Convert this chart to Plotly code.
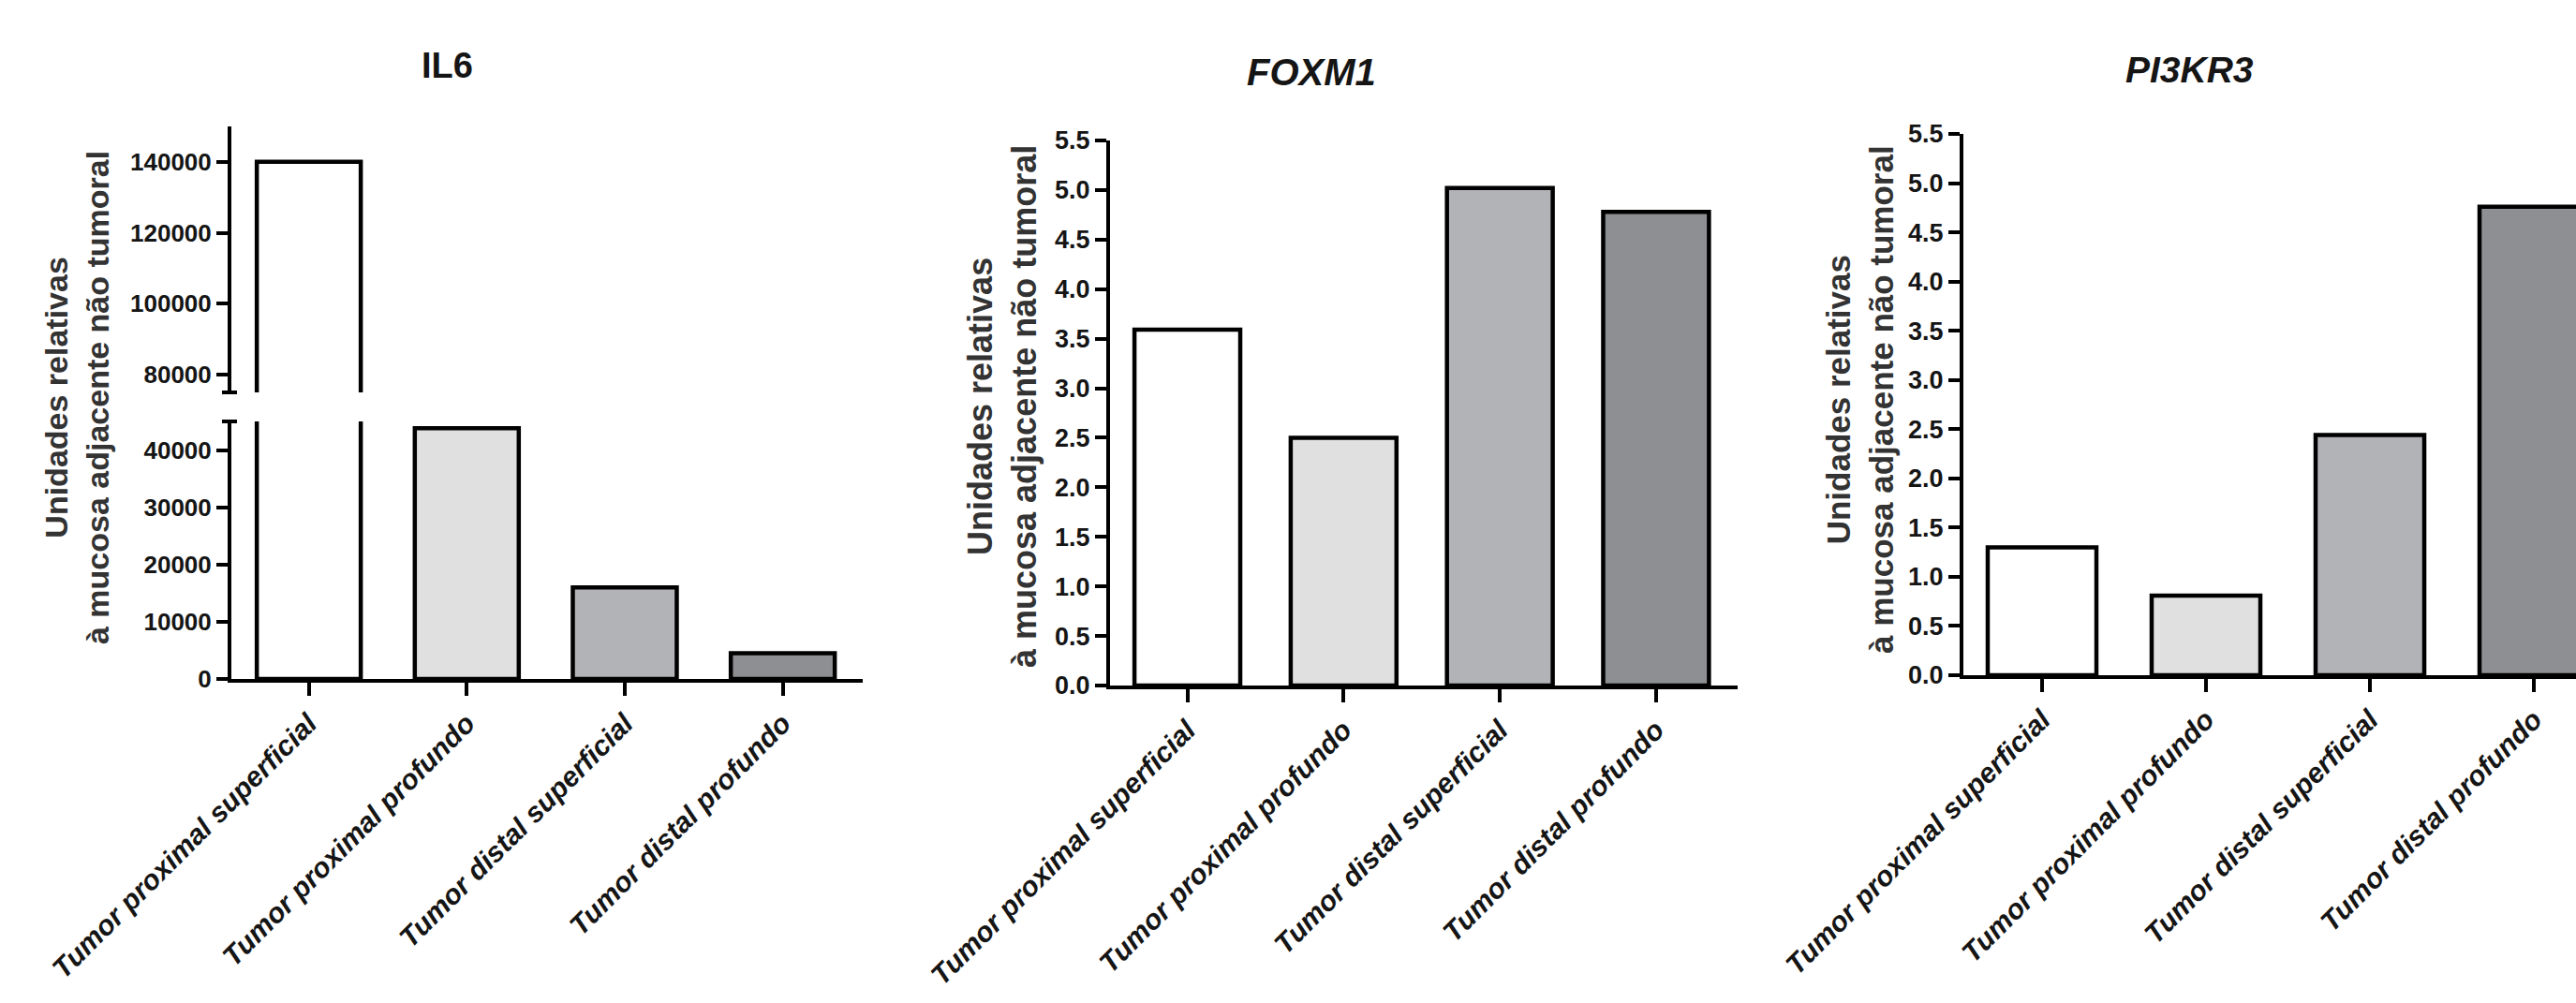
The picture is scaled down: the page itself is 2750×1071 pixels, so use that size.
import plotly.graph_objects as go

W, H = 2750, 1071

# ---- data -------------------------------------------------------------
categories = [
    "Tumor proximal superficial",
    "Tumor proximal profundo",
    "Tumor distal superficial",
    "Tumor distal profundo",
]
bar_colors = ["#ffffff", "#e0e0e0", "#b2b3b7", "#8e8f92"]

il6_values = [140000, 43800, 16000, 4500]
foxm1_values = [3.59, 2.50, 5.02, 4.78]
pi3kr3_values = [1.30, 0.81, 2.44, 4.76]

il6_lower_ticks = [0, 10000, 20000, 30000, 40000]
il6_upper_ticks = [80000, 100000, 120000, 140000]
il6_lower_range = [0, 45000]
il6_upper_range = [75000, 150000]

fold_ticks = [0.0, 0.5, 1.0, 1.5, 2.0, 2.5, 3.0, 3.5, 4.0, 4.5, 5.0, 5.5]
fold_range = [0, 5.5]

panel_titles = ["IL6", "FOXM1", "PI3KR3"]
y_title = "Unidades relativas<br>à mucosa adjacente não tumoral"

# ---- layout helpers (pixel -> paper) ----------------------------------
def fx(p):
    return p / W


def fy(p):
    return 1 - p / H


FONT = "Liberation Sans, Arial, Helvetica, sans-serif"
INK = "#151515"
LW = 4

il6_x_dom = [fx(247), fx(921)]
il6_low_dom = [fy(725), fy(450)]
il6_up_dom = [fy(419), fy(135)]
fox_x_dom = [fx(1185), fx(1855)]
fox_y_dom = [fy(732), fy(150)]
pik_x_dom = [fx(2096), 1.0]
pik_y_dom = [fy(721), fy(143)]


def xaxis_style(domain, anchor, rng):
    return dict(
        domain=domain, anchor=anchor, range=rng, type="category",
        showline=True, linecolor="black", linewidth=LW,
        ticks="outside", ticklen=14, tickwidth=LW, tickcolor="black",
        tickangle=-45, showgrid=False, zeroline=False, automargin=False,
        tickfont=dict(family=FONT, size=30, color=INK,
                      weight="bold", style="italic"),
        fixedrange=True,
    )


def yaxis_style(domain, anchor, rng, tickvals, ticktext, size):
    return dict(
        domain=domain, anchor=anchor, range=rng,
        tickvals=tickvals, ticktext=ticktext,
        showline=True, linecolor="black", linewidth=LW,
        ticks="outside", ticklen=12, tickwidth=LW, tickcolor="black",
        showgrid=False, zeroline=False, automargin=False,
        tickfont=dict(family=FONT, size=size, color=INK, weight="bold"),
        fixedrange=True,
    )


fig = go.Figure()

bar_line = dict(color="black", width=4.5)

# IL6: broken axis, the same bars drawn on the lower and upper segments
for yref in ("y", "y2"):
    fig.add_trace(go.Bar(
        x=categories, y=il6_values, xaxis="x", yaxis=yref,
        marker=dict(color=bar_colors, line=bar_line),
        width=0.658, showlegend=False,
    ))

fig.add_trace(go.Bar(
    x=categories, y=foxm1_values, xaxis="x2", yaxis="y3",
    marker=dict(color=bar_colors, line=bar_line),
    width=0.677, showlegend=False,
))

fig.add_trace(go.Bar(
    x=categories, y=pi3kr3_values, xaxis="x3", yaxis="y4",
    marker=dict(color=bar_colors, line=bar_line),
    width=0.663, showlegend=False,
))

fold_text = [f"{v:.1f}" for v in fold_ticks]

fig.update_layout(
    width=W, height=H,
    margin=dict(l=0, r=0, t=0, b=0, pad=0, autoexpand=False),
    paper_bgcolor="white", plot_bgcolor="white",
    showlegend=False,
    xaxis=xaxis_style(il6_x_dom, "y", [-0.49, 3.506]),
    yaxis=yaxis_style(il6_low_dom, "x", il6_lower_range,
                      il6_lower_ticks, [str(v) for v in il6_lower_ticks], 26),
    yaxis2=yaxis_style(il6_up_dom, "x", il6_upper_range,
                       il6_upper_ticks, [str(v) for v in il6_upper_ticks], 26),
    xaxis2=xaxis_style(fox_x_dom, "y3", [-0.495, 3.522]),
    yaxis3=yaxis_style(fox_y_dom, "x2", fold_range, fold_ticks, fold_text, 27),
    xaxis3=xaxis_style(pik_x_dom, "y4", [-0.48, 3.257]),
    yaxis4=yaxis_style(pik_y_dom, "x3", fold_range, fold_ticks, fold_text, 27),
)

# small caps closing the two segments of the broken IL6 axis
cap = 8 / W
axis_x = il6_x_dom[0] - (LW / 2) / W
for yb in (il6_low_dom[1], il6_up_dom[0]):
    fig.add_shape(type="line", xref="paper", yref="paper",
                  x0=axis_x - cap, x1=axis_x + cap, y0=yb, y1=yb,
                  line=dict(color="black", width=LW))

# panel titles
title_pos = [(477, 70), (1400, 77), (2337, 75)]
title_style = ["normal", "italic", "italic"]
title_size = [38, 40, 39]
for text, (px, py), st, sz in zip(panel_titles, title_pos, title_style, title_size):
    fig.add_annotation(
        text=text, xref="paper", yref="paper", x=fx(px), y=fy(py),
        xanchor="center", yanchor="middle", showarrow=False,
        font=dict(family=FONT, size=sz, color=INK, weight="bold", style=st),
    )

# rotated y-axis titles
ytitle_pos = [(82, 425), (1070, 434), (1985, 427)]
ytitle_size = [34, 36, 35]
for (px, py), sz in zip(ytitle_pos, ytitle_size):
    fig.add_annotation(
        text=y_title, xref="paper", yref="paper", x=fx(px), y=fy(py),
        xanchor="center", yanchor="middle", showarrow=False,
        textangle=-90,
        font=dict(family=FONT, size=sz, color="#333333", weight="bold"),
    )

fig.write_html("out.html", config={"displayModeBar": False})
